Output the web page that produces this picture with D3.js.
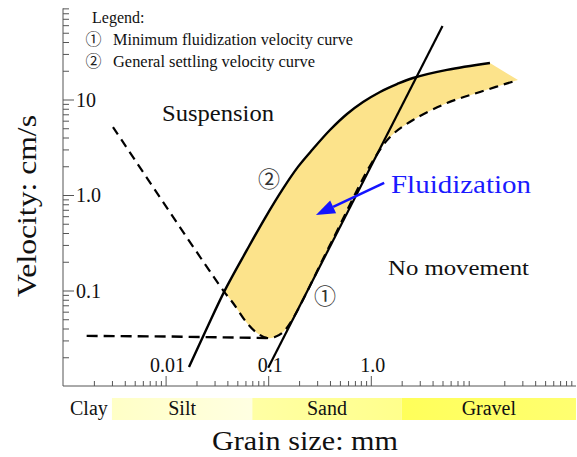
<!DOCTYPE html>
<html>
<head>
<meta charset="utf-8">
<script src="https://cdn.jsdelivr.net/npm/d3@7"></script>
<style>
  body { margin: 0; background: #fff; }
  text { font-family: "Liberation Serif", "Times New Roman", serif; fill: #111; }
  .circ { font-family: "Noto Sans CJK JP", "DejaVu Sans", sans-serif; }
</style>
</head>
<body>
<div id="chart"></div>
<script>
// values: grain size in mm, velocity in cm/s
var minFluidGrain = [0.1, 5.0];
var minFluidVel = [0.0155, 59];

var settleGrain = [0.0169, 0.0253, 0.0379, 0.0621, 0.0931, 0.139, 0.195, 0.273, 0.400, 0.586, 0.840, 1.23, 1.80, 2.58, 5.53, 14.5];
var settleVel = [0.0158, 0.0405, 0.101, 0.266, 0.574, 1.16, 1.97, 3.03, 4.79, 7.05, 9.41, 12.0, 14.5, 16.8, 20.4, 24.1];

var dashGrain = [0.00307, 0.0362, 0.0454, 0.0621, 0.0778, 0.0973, 0.116, 0.146, 0.400, 0.98, 1.54, 2.58, 5.53, 11.6, 27.2];
var dashVel = [5.15, 0.101, 0.0740, 0.0457, 0.0359, 0.0318, 0.0326, 0.0385, 0.299, 2.01, 4.05, 6.10, 9.19, 12.0, 16.0];

var flatGrain = [0.0017, 0.01, 0.097];
var flatVel = [0.0335, 0.033, 0.0318];

var classNames = ["Silt", "Sand", "Gravel"];
var classEdges = [0.003, 0.07, 2, 100];

var xTickValues = [0.01, 0.1, 1];
var xTickLabels = ["0.01", "0.1", "1.0"];
var yTickValues = [0.1, 1, 10];
var yTickLabels = ["0.1", "1.0", "10"];

// arrow of the "Fluidization" note (grain, velocity)
var arrowGrain = [1.35, 0.292];
var arrowVel = [1.34, 0.618];

var svgWidth = 577;
var svgHeight = 457;

var svg = d3.select("#chart")
  .append("svg")
  .attr("width", svgWidth)
  .attr("height", svgHeight);

var x = d3.scaleLog().domain([0.001, 100]).range([63, 576]);
var y = d3.scaleLog().domain([0.01, 100]).range([386, 4]);

var pts = function(gs, vs) { return gs.map((g, i) => [g, vs[i]]); };
var line = d3.line().x(d => x(d[0])).y(d => y(d[1]));
var smooth = d3.line().x(d => x(d[0])).y(d => y(d[1])).curve(d3.curveCatmullRom.alpha(0.5));

// minor tick values 2..9 per decade
function minors(lo, hi, top) {
  var out = [];
  for (var e = lo; e <= hi; e++) {
    for (var m = 2; m <= 9; m++) {
      var v = m * Math.pow(10, e);
      if (v <= top) out.push(+v.toPrecision(3));
    }
  }
  return out;
}

// fluidization zone fill
var settlePts = pts(settleGrain, settleVel);
var dashPts = pts(dashGrain, dashVel);
var zonePath = smooth(dashPts.slice(1)) + "L" + smooth(settlePts.slice(2).reverse()).slice(1) + "Z";
svg.append("path")
  .attr("d", zonePath)
  .attr("fill", "#fce38b");

// axes
var axisColor = "#555";
var xAxis = svg.append("g").attr("transform", `translate(0, ${y(0.01)})`);
xAxis.call(d3.axisTop(x).tickValues(minors(-3, 1, 90)).tickSize(5).tickFormat(""));
xAxis.append("g").call(d3.axisTop(x).tickValues(xTickValues).tickSize(10).tickFormat(""));
xAxis.selectAll(".domain").remove();
xAxis.selectAll("line").attr("stroke", axisColor);
svg.append("line")
  .attr("x1", x(0.001)).attr("x2", x(100))
  .attr("y1", y(0.01)).attr("y2", y(0.01))
  .attr("stroke", axisColor);

var yAxis = svg.append("g").attr("transform", `translate(${x(0.001)}, 0)`);
yAxis.call(d3.axisRight(y).tickValues(minors(-2, 1, 90)).tickSize(6).tickFormat(""));
yAxis.append("g").call(d3.axisRight(y).tickValues(yTickValues).tickSize(11).tickFormat(""));
yAxis.selectAll(".domain").remove();
yAxis.selectAll("line").attr("stroke", axisColor);
svg.append("line")
  .attr("x1", x(0.001)).attr("x2", x(0.001))
  .attr("y1", y(0.01)).attr("y2", y(90))
  .attr("stroke", axisColor);

// tick labels inside the plot
svg.selectAll("text.xlab")
  .data(xTickValues)
  .enter()
  .append("text")
  .attr("class", "xlab")
  .attr("x", d => x(d) + 2)
  .attr("y", 372)
  .attr("text-anchor", "middle")
  .attr("font-size", 20)
  .text((d, i) => xTickLabels[i]);

svg.selectAll("text.ylab")
  .data(yTickValues)
  .enter()
  .append("text")
  .attr("class", "ylab")
  .attr("x", 76)
  .attr("y", d => y(d) + 7)
  .attr("font-size", 20)
  .text((d, i) => yTickLabels[i]);

// curves
svg.append("path")
  .attr("d", line(pts(flatGrain, flatVel)))
  .attr("fill", "none")
  .attr("stroke", "#000")
  .attr("stroke-width", 2.4)
  .attr("stroke-dasharray", "11,6");

svg.append("path")
  .attr("d", smooth(dashPts))
  .attr("fill", "none")
  .attr("stroke", "#000")
  .attr("stroke-width", 2.2)
  .attr("stroke-dasharray", "9,6");

svg.append("path")
  .attr("d", smooth(settlePts))
  .attr("fill", "none")
  .attr("stroke", "#000")
  .attr("stroke-width", 2.4);

svg.append("path")
  .attr("d", line(pts(minFluidGrain, minFluidVel)))
  .attr("fill", "none")
  .attr("stroke", "#000")
  .attr("stroke-width", 2.2);

// arrow
var ax0 = x(arrowGrain[0]), ay0 = y(arrowVel[0]);
var ax1 = x(arrowGrain[1]), ay1 = y(arrowVel[1]);
var ang = Math.atan2(ay1 - ay0, ax1 - ax0);
var headLen = 19, headW = 7;
var bx = ax1 - headLen * Math.cos(ang), by = ay1 - headLen * Math.sin(ang);
svg.append("line")
  .attr("x1", ax0).attr("y1", ay0)
  .attr("x2", bx).attr("y2", by)
  .attr("stroke", "#1414ff")
  .attr("stroke-width", 2.6);
svg.append("polygon")
  .attr("points", [
    [ax1, ay1],
    [bx + headW * Math.sin(ang), by - headW * Math.cos(ang)],
    [bx - headW * Math.sin(ang), by + headW * Math.cos(ang)]
  ].join(" "))
  .attr("fill", "#1414ff");

// region labels
svg.append("text").attr("x", 162).attr("y", 121).attr("font-size", 23)
  .attr("textLength", 112).attr("lengthAdjust", "spacingAndGlyphs").text("Suspension");
svg.append("text").attr("x", 388).attr("y", 275).attr("font-size", 22)
  .attr("textLength", 141).attr("lengthAdjust", "spacingAndGlyphs").text("No movement");
svg.append("text").attr("x", 391).attr("y", 193).attr("font-size", 26)
  .attr("textLength", 140).attr("lengthAdjust", "spacingAndGlyphs")
  .style("fill", "#1a1aff").text("Fluidization");

svg.append("text").attr("class", "circ").attr("x", 269).attr("y", 177)
  .attr("text-anchor", "middle").attr("dominant-baseline", "central")
  .attr("font-size", 22).style("fill", "#333").text("②");
svg.append("text").attr("class", "circ").attr("x", 325).attr("y", 294)
  .attr("text-anchor", "middle").attr("dominant-baseline", "central")
  .attr("font-size", 22).style("fill", "#333").text("①");

// legend
svg.append("text").attr("x", 92).attr("y", 23).attr("font-size", 16).text("Legend:");
var legendRows = ["Minimum fluidization velocity curve", "General settling velocity curve"];
var legendWidths = [240, 202];
var legendMarks = ["①", "②"];
legendRows.forEach(function(t, i) {
  svg.append("text").attr("class", "circ").attr("x", 93.5).attr("y", 45 + i * 22)
    .attr("text-anchor", "middle")
    .attr("font-size", 16).style("fill", "#222").text(legendMarks[i]);
  svg.append("text").attr("x", 113).attr("y", 45 + i * 22)
    .attr("font-size", 16)
    .attr("textLength", legendWidths[i]).attr("lengthAdjust", "spacingAndGlyphs")
    .text(t);
});

// grain size classes bar
var defs = svg.append("defs");
var bandColors = [["#ffffc6", "#ffffe2"], ["#ffffa4", "#ffff8c"], ["#ffff5a", "#ffff70"]];
bandColors.forEach(function(c, i) {
  var g = defs.append("linearGradient").attr("id", "band" + i);
  g.append("stop").attr("offset", "0%").attr("stop-color", c[0]);
  g.append("stop").attr("offset", "100%").attr("stop-color", c[1]);
});
svg.selectAll("rect.band")
  .data(classNames)
  .enter()
  .append("rect")
  .attr("class", "band")
  .attr("x", (d, i) => x(classEdges[i]))
  .attr("width", (d, i) => x(classEdges[i + 1]) - x(classEdges[i]))
  .attr("y", 398)
  .attr("height", 22)
  .attr("fill", (d, i) => `url(#band${i})`);
svg.selectAll("text.band")
  .data(classNames)
  .enter()
  .append("text")
  .attr("class", "band")
  .attr("x", (d, i) => (x(classEdges[i]) + x(classEdges[i + 1])) / 2)
  .attr("y", 415)
  .attr("text-anchor", "middle")
  .attr("font-size", 20)
  .text(d => d);
svg.append("text").attr("x", 70).attr("y", 415).attr("font-size", 20).text("Clay");

// axis titles
svg.append("text")
  .attr("x", 305).attr("y", 450)
  .attr("text-anchor", "middle")
  .attr("font-size", 28)
  .attr("textLength", 186).attr("lengthAdjust", "spacingAndGlyphs")
  .text("Grain size: mm");
svg.append("text")
  .attr("transform", "translate(36, 206) rotate(-90)")
  .attr("text-anchor", "middle")
  .attr("font-size", 28)
  .attr("textLength", 182).attr("lengthAdjust", "spacingAndGlyphs")
  .text("Velocity: cm/s");
</script>
</body>
</html>
